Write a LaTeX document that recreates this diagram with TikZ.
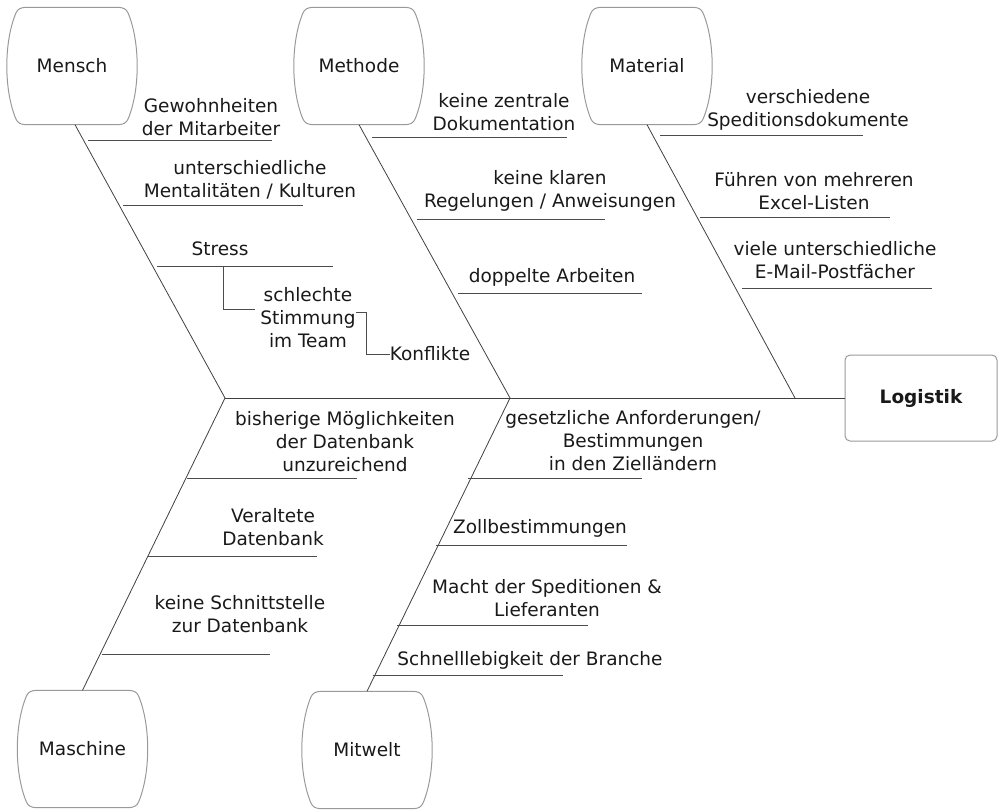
\documentclass[tikz,border=0pt]{standalone}
\usepackage{fontspec}
\setmainfont{DejaVu Sans}
\usetikzlibrary{calc}
\newcommand{\barrelbox}[1]{%
  \draw[boxline] let \p1=(#1.north west), \p2=(#1.south east) in
    (\x1+20pt,\y1) -- (\x2-20pt,\y1)
    .. controls (\x2-14pt,\y1) and (\x2-10.8pt,\y1-1.6pt) .. (\x2-9pt,\y1-6pt)
    .. controls (\x2+3pt,\y1-35pt) and (\x2+3pt,\y2+35pt) .. (\x2-9pt,\y2+6pt)
    .. controls (\x2-10.8pt,\y2+1.6pt) and (\x2-14pt,\y2) .. (\x2-20pt,\y2)
    -- (\x1+20pt,\y2)
    .. controls (\x1+14pt,\y2) and (\x1+10.8pt,\y2+1.6pt) .. (\x1+9pt,\y2+6pt)
    .. controls (\x1-3pt,\y2+35pt) and (\x1-3pt,\y1-35pt) .. (\x1+9pt,\y1-6pt)
    .. controls (\x1+10.8pt,\y1-1.6pt) and (\x1+14pt,\y1) .. (\x1+20pt,\y1) -- cycle;}
\begin{document}
\begin{tikzpicture}[x=1pt,y=-1pt,
  lbl/.style={font=\fontsize{18.5}{23}\selectfont, align=center, inner sep=0pt, text=black!90},
  catbox/.style={lbl, minimum width=130pt, minimum height=117pt},
  boxline/.style={draw=black!40, line width=1pt},
  bone/.style={draw=black!75, line width=0.8pt},
  branch/.style={draw=black!70, line width=0.8pt}]
\useasboundingbox (0,0) rectangle (1000,809);

% category boxes
\node[catbox] (mensch) at (72,66) {Mensch};
\node[catbox] (methode) at (359,66) {Methode};
\node[catbox] (material) at (647,66) {Material};
\node[catbox] (maschine) at (82.5,749) {Maschine};
\node[catbox] (mitwelt) at (367,750) {Mitwelt};
\barrelbox{mensch}
\barrelbox{methode}
\barrelbox{material}
\barrelbox{maschine}
\barrelbox{mitwelt}

\node[lbl, font=\fontsize{18.5}{23}\selectfont\bfseries, draw=black!40, line width=1pt,
      rounded corners=5pt, minimum width=152pt, minimum height=86pt] (logistik) at (921,398) {Logistik};

% spine and bones
\coordinate (j1) at (225,398);
\coordinate (j2) at (510,398);
\coordinate (j3) at (795,398);
\draw[bone] (j1) -- (logistik.west);
\draw[bone] ([xshift=3pt]mensch.south) -- (j1);
\draw[bone] (methode.south) -- (j2);
\draw[bone] (material.south) -- (j3);
\draw[bone] (maschine.north) -- (j1);
\draw[bone] (mitwelt.north) -- (j2);

% Mensch
\node[lbl] (t1) at (211,117) {Gewohnheiten\\der Mitarbeiter};
\draw[branch] (88,140) coordinate (b1a) -- (272,140) coordinate (b1b);
\node[lbl] (t2) at (250,180) {unterschiedliche\\Mentalitäten / Kulturen};
\draw[branch] (123,205) coordinate (b2a) -- (303,205) coordinate (b2b);
\node[lbl] (t3) at (220,249) {Stress};
\draw[branch] (157,266) coordinate (b3a) -- (333,266) coordinate (b3b);
\coordinate (s1) at (223,266);
\node[lbl] (team) at (308,318) {schlechte\\Stimmung\\im Team};
\node[lbl] (konflikte) at (430,354) {Konflikte};
\draw[branch] (s1) |- ($(team.west)+(-5,-9)$);
\draw[branch] ($(team.east)+(0,-6)$) -- ++(11,0) |- (konflikte.west);

% Methode
\node[lbl] (t4) at (504,112) {keine zentrale\\Dokumentation};
\draw[branch] (372,137) coordinate (b4a) -- (567,137) coordinate (b4b);
\node[lbl] (t5) at (550,191) {keine klaren\\Regelungen / Anweisungen};
\draw[branch] (417,219) coordinate (b5a) -- (605,219) coordinate (b5b);
\node[lbl] (t6) at (552,277) {doppelte Arbeiten};
\draw[branch] (458,293) coordinate (b6a) -- (642,293) coordinate (b6b);

% Material
\node[lbl] (t7) at (808,110) {verschiedene\\Speditionsdokumente};
\draw[branch] (660,135) coordinate (b7a) -- (863,135) coordinate (b7b);
\node[lbl] (t8) at (814,191) {Führen von mehreren\\Excel-Listen};
\draw[branch] (700,217) coordinate (b8a) -- (890,217) coordinate (b8b);
\node[lbl] (t9) at (835,260) {viele unterschiedliche\\E-Mail-Postfächer};
\draw[branch] (742,288) coordinate (b9a) -- (932,288) coordinate (b9b);

% Maschine
\node[lbl] (t10) at (345,442) {bisherige Möglichkeiten\\der Datenbank\\unzureichend};
\draw[branch] (187,478) coordinate (b10a) -- (357,478) coordinate (b10b);
\node[lbl] (t11) at (273,527) {Veraltete\\Datenbank};
\draw[branch] (148,556) coordinate (b11a) -- (317,556) coordinate (b11b);
\node[lbl] (t12) at (240,614) {keine Schnittstelle\\zur Datenbank};
\draw[branch] (102,654) coordinate (b12a) -- (270,654) coordinate (b12b);

% Mitwelt
\node[lbl] (t13) at (633,441) {gesetzliche Anforderungen/\\Bestimmungen\\in den Zielländern};
\draw[branch] (468,478) coordinate (b13a) -- (642,478) coordinate (b13b);
\node[lbl] (t14) at (540,528) {Zollbestimmungen};
\draw[branch] (436,545) coordinate (b14a) -- (627,545) coordinate (b14b);
\node[lbl] (t15) at (547,598) {Macht der Speditionen \&\\Lieferanten};
\draw[branch] (397,625) coordinate (b15a) -- (588,625) coordinate (b15b);
\node[lbl] (t16) at (530,660) {Schnelllebigkeit der Branche};
\draw[branch] (373,675) coordinate (b16a) -- (563,675) coordinate (b16b);
\end{tikzpicture}
\end{document}
